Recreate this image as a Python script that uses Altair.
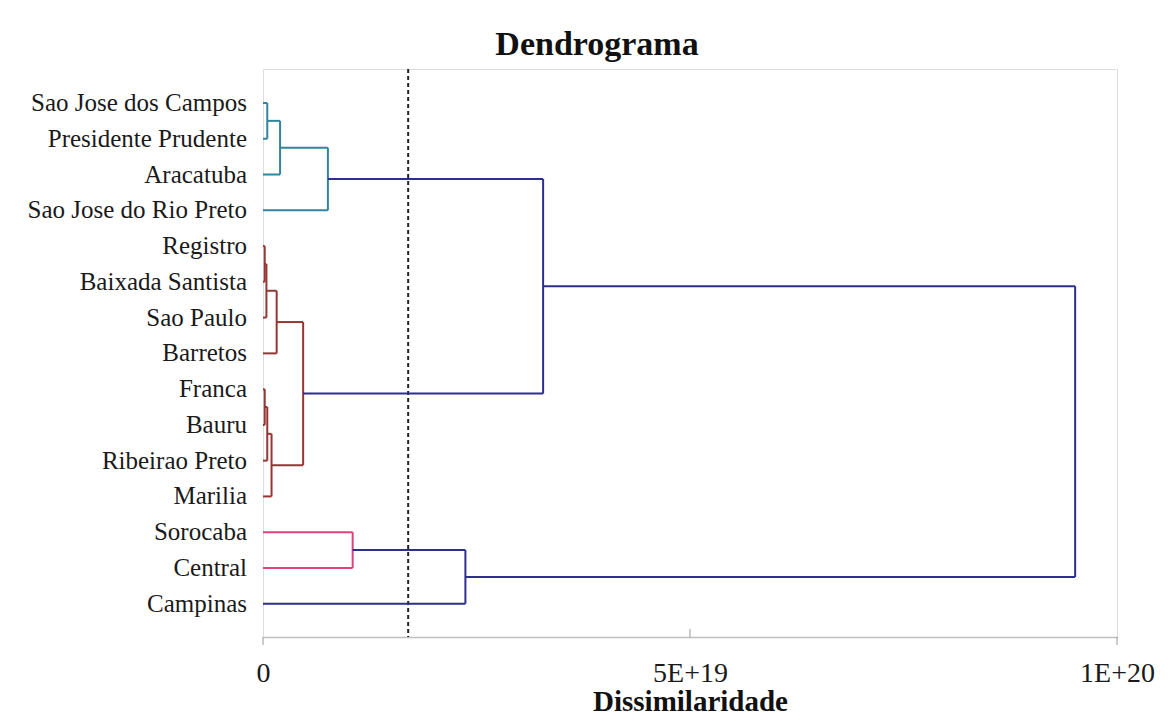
import altair as alt
import pandas as pd

# Leaves, top to bottom
leaves = ["Sao Jose dos Campos", "Presidente Prudente", "Aracatuba",
          "Sao Jose do Rio Preto", "Registro", "Baixada Santista", "Sao Paulo",
          "Barretos", "Franca", "Bauru", "Ribeirao Preto", "Marilia",
          "Sorocaba", "Central", "Campinas"]

# Merges: (id, left child, right child, height in units of 1E+18, cluster)
merge_ids = ["A", "B", "C", "D", "E", "F", "G", "H", "I", "J", "K", "L", "M", "N"]
merge_left = [0, "A", "B", 4, "D", "E", 8, "G", "H", "F", "C", 12, "L", "K"]
merge_right = [1, 2, 3, 5, 6, 7, 9, 10, 11, "I", "J", 13, 14, "M"]
merge_height = [0.5, 2.0, 7.6, 0.2, 0.4, 1.6, 0.2, 0.5, 1.0, 4.7, 32.8, 10.5, 23.7, 95.1]
merge_group = ["teal", "teal", "teal", "red", "red", "red", "red", "red", "red",
               "red", "navy", "pink", "navy", "navy"]

cut_height = [17.0]
tick_values = [0, 50, 100]

group_names = ["teal", "red", "pink", "navy"]
group_colors = ["#31849B", "#943634", "#E0407B", "#2E2E8F"]

# Build segments
pos = {i: (float(i), 0.0) for i in range(len(leaves))}
rows = []
for mid, l, r, h, g in zip(merge_ids, merge_left, merge_right, merge_height, merge_group):
    ly, lh = pos[l]
    ry, rh = pos[r]
    rows.append(dict(x=lh, x2=h, y=ly, y2=ly, g=g))
    rows.append(dict(x=rh, x2=h, y=ry, y2=ry, g=g))
    rows.append(dict(x=h, x2=h, y=ly, y2=ry, g=g))
    pos[mid] = ((ly + ry) / 2, h)
seg = pd.DataFrame(rows)

lab = pd.DataFrame({"name": leaves, "y": list(range(len(leaves))), "x": [0] * len(leaves)})

xs = alt.Scale(domain=[0, 100], nice=False, zero=False)
ys = alt.Scale(domain=[-0.95, 14.93], nice=False, zero=False, reverse=True)

serif = "Liberation Serif"

lines = alt.Chart(seg).mark_rule(strokeWidth=2).encode(
    x=alt.X("x:Q", scale=xs, axis=alt.Axis(
        values=tick_values, title="Dissimilaridade", grid=False, ticks=False,
        labelFlush=False,
        labelExpr="datum.value == 0 ? '0' : (datum.value == 50 ? '5E+19' : '1E+20')",
        labelFont=serif, labelFontSize=28, labelColor="#1a1a1a", labelPadding=22,
        titleFont=serif, titleFontSize=29, titleFontWeight="bold", titleColor="#111",
        titlePadding=0, domainColor="#BFBFBF", domainWidth=1.5)),
    x2="x2:Q",
    y=alt.Y("y:Q", scale=ys, axis=None),
    y2="y2:Q",
    color=alt.Color("g:N", scale=alt.Scale(domain=group_names, range=group_colors), legend=None),
)

cut = alt.Chart(pd.DataFrame({"c": cut_height})).mark_rule(
    color="#222", strokeWidth=2, strokeDash=[4, 3]).encode(
    x=alt.X("c:Q", scale=xs), y=alt.value(0), y2=alt.value(568))

ticks_in = alt.Chart(pd.DataFrame({"t": [50]})).mark_rule(color="#999", strokeWidth=1).encode(
    x=alt.X("t:Q", scale=xs), y=alt.value(560), y2=alt.value(568))
ticks_out = alt.Chart(pd.DataFrame({"t": [0, 100]})).mark_rule(color="#999", strokeWidth=1).encode(
    x=alt.X("t:Q", scale=xs), y=alt.value(568), y2=alt.value(576))

labels = alt.Chart(lab).mark_text(
    align="right", baseline="middle", dx=-16, font=serif, fontSize=25, color="#1a1a1a").encode(
    x=alt.X("x:Q", scale=xs), y=alt.Y("y:Q", scale=ys), text="name:N")

chart = alt.layer(cut, lines, ticks_in, ticks_out, labels).properties(
    width=854, height=568,
    autosize=alt.AutoSizeParams(type="none"),
    padding={"left": 255, "top": 61, "right": 47, "bottom": 79},
    title=alt.TitleParams("Dendrograma", font=serif, fontSize=34, fontWeight="bold",
                          color="#111", anchor="middle", dx=-93, offset=6),
).configure_view(stroke="#C8C8C8", strokeWidth=1.5).configure(background="white")

chart.save("out.html", embed_options={"renderer": "svg", "actions": False})
